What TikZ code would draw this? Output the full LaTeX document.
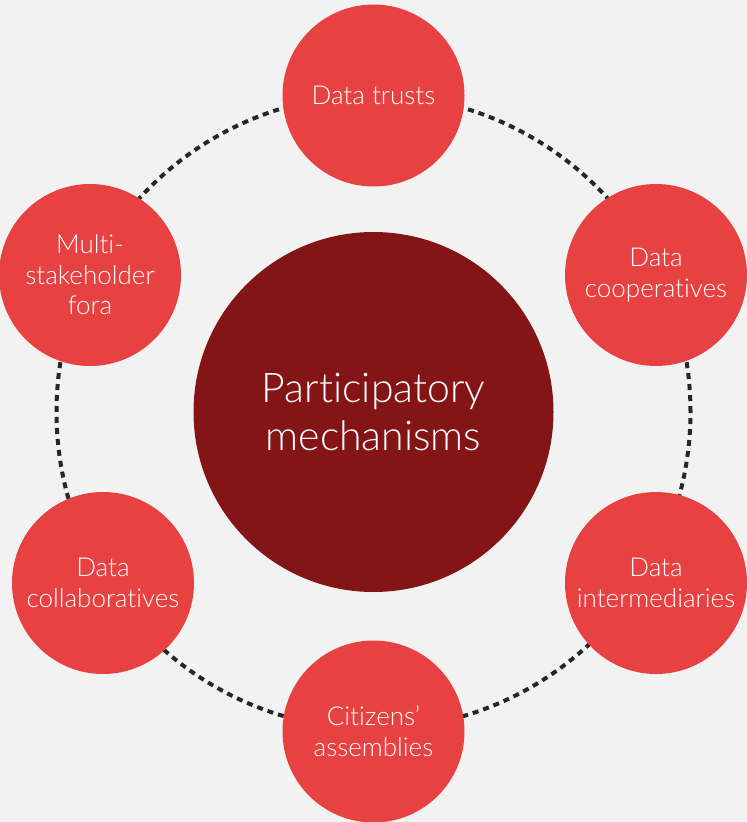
\documentclass[tikz,border=0pt]{standalone}
\usepackage{fontspec}
\setmainfont{Lato Light}[Ligatures={NoCommon,NoContextual}]
\definecolor{bgcol}{HTML}{F2F2F2}
\definecolor{petal}{HTML}{E84142}
\definecolor{hub}{HTML}{841516}
\definecolor{ringcol}{HTML}{262626}
\begin{document}
\begin{tikzpicture}[x=1pt,y=-1pt,
  petalnode/.style={circle,fill=petal,minimum size=182pt,inner sep=0pt,
    text=white,align=center,font=\fontsize{26}{30.5}\selectfont},
  hubnode/.style={circle,fill=hub,minimum size=360pt,inner sep=0pt,
    text=white,align=center,font=\fontsize{41}{48}\selectfont},
  ringline/.style={draw=ringcol,line width=4pt,dash pattern=on 6pt off 5pt}]
  % page background
  \fill[bgcol] (0,0) rectangle (747,822);
  \useasboundingbox (0,0) rectangle (747,822);
  % central circle
  \node[hubnode] (hub) at (373.5,412) {Participatory\\mechanisms};
  % dashed ring through the outer circles
  \draw[ringline] (hub.center) circle[radius=317pt];
  % outer circles
  \node[petalnode] (trusts) at (373.5,95.5) {Data trusts};
  \node[petalnode] (coop) at (656,275) {Data\\cooperatives};
  \node[petalnode] (inter) at (656,583) {Data\\intermediaries};
  \node[petalnode] (assem) at (373.5,731.5) {Citizens’\\assemblies};
  \node[petalnode] (collab) at (103,583) {Data\\collaboratives};
  \node[petalnode] (fora) at (90,275) {Multi-\\stakeholder\\fora};
\end{tikzpicture}
\end{document}
